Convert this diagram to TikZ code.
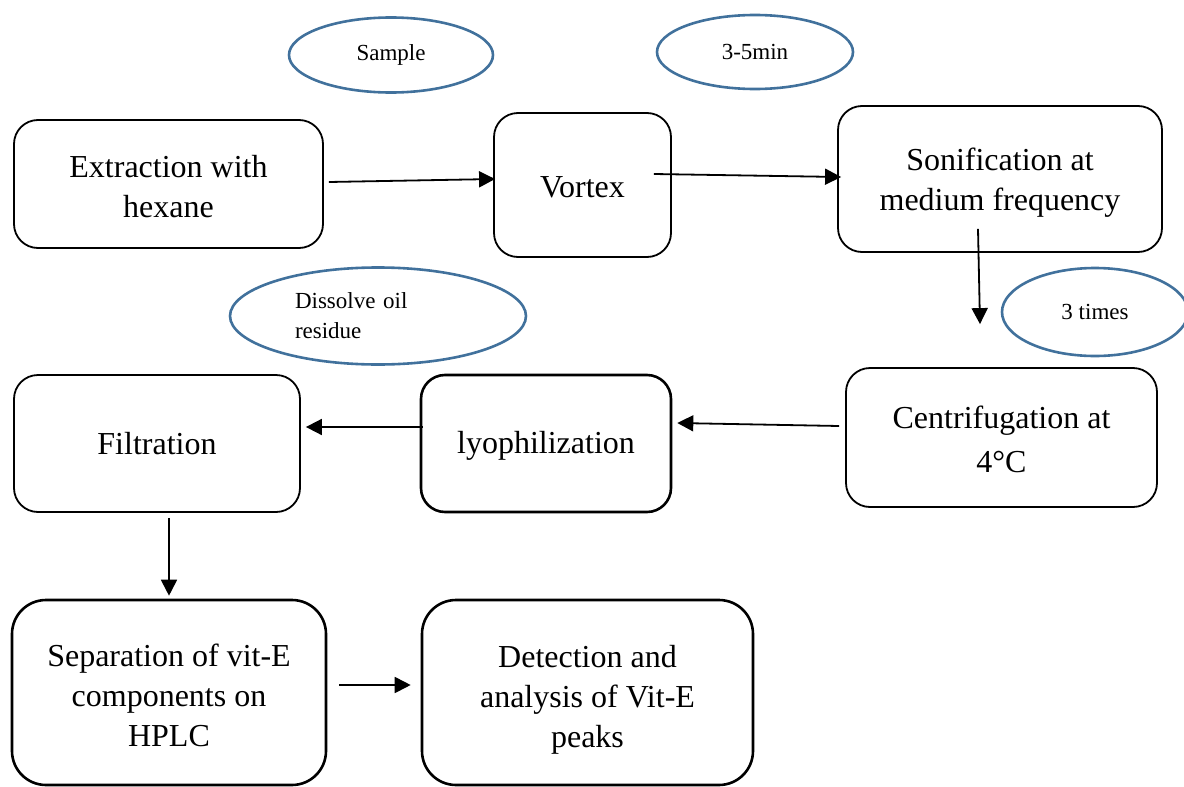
\documentclass[tikz,border=0pt]{standalone}
\usepackage{fontspec}
\setmainfont{Liberation Serif}
\usepackage{xcolor}
\usetikzlibrary{shapes.geometric, arrows.meta}

\definecolor{oval}{RGB}{65,113,156}
\newcommand{\gap}[1]{\rule{0pt}{#1pt}}

\tikzset{
	stepbox/.style={draw, line width=1.8, rounded corners=24, align=center, inner sep=0,
		font=\fontsize{32}{40}\selectfont},
	oval/.style={draw=oval, ellipse, line width=2.6, inner sep=0,
		font=\fontsize{23}{30}\selectfont},
	arr/.style={line width=1.8, -{Triangle[length=16pt,width=16pt]}}
}

\begin{document}
\begin{tikzpicture}[x=1pt, y=-1pt]
\useasboundingbox (0,0) rectangle (1184,787);

% the ovals
\node[oval, minimum width=204, minimum height=75] (sample) at (391,55) {Sample};
\node[oval, minimum width=196, minimum height=74] (time) at (755,52) {3-5min};
\node[oval, minimum width=296, minimum height=97, text width=166, align=left] (oil) at (378,316) {Dissolve oil\\residue};
\node[oval, minimum width=186, minimum height=88] (times) at (1095,312) {3 times};

% the steps
\node[stepbox, minimum width=309, minimum height=128] (ext) at (168.5,184) {\gap{27}Extraction with\\hexane};
\node[stepbox, minimum width=177, minimum height=144] (vortex) at (582.5,185) {\gap{25}Vortex};
\node[stepbox, minimum width=324, minimum height=146] (sonif) at (1000,179) {\gap{30}Sonification at\\medium frequency};
\node[stepbox, minimum width=311, minimum height=139] (centrif) at (1001.5,437.5) {\gap{27}Centrifugation at\\[4pt]4°C};
\node[stepbox, line width=2.6, minimum width=250, minimum height=137] (lyo) at (546,443.5) {\gap{26}lyophilization};
\node[stepbox, minimum width=286, minimum height=137] (filt) at (157,443.5) {Filtration};
\node[stepbox, line width=2.6, rounded corners=34, minimum width=314, minimum height=185] (sep) at (169,692.5) {\gap{29}Separation of vit-E\\components on\\HPLC};
\node[stepbox, line width=2.6, rounded corners=34, minimum width=331, minimum height=185] (det) at (587.5,692.5) {\gap{37}Detection and\\analysis of Vit-E\\peaks};

\draw[arr] ([xshift=5pt,yshift=2pt]ext.east) -- ([xshift=2pt,yshift=6pt]vortex.west);
\draw[arr] ([xshift=-18pt,yshift=11pt]vortex.east) -- ([xshift=4pt,yshift=2pt]sonif.west);
\draw[arr] ([xshift=-22pt,yshift=24pt]sonif.south) -- ([xshift=-21.5pt,yshift=43pt]centrif.north);
\draw[arr] ([xshift=-6pt,yshift=11.5pt]centrif.west) -- ([xshift=5pt,yshift=20.5pt]lyo.east);
\draw[arr] ([xshift=3pt,yshift=16.5pt]lyo.west) -- ([xshift=5pt,yshift=16.5pt]filt.east);
\draw[arr] ([xshift=12pt,yshift=-5pt]filt.south) -- ([yshift=3pt]sep.north);
\draw[arr] ([xshift=12pt,yshift=7.5pt]sep.east) -- ([xshift=-10pt,yshift=7.5pt]det.west);

\end{tikzpicture}
\end{document}
